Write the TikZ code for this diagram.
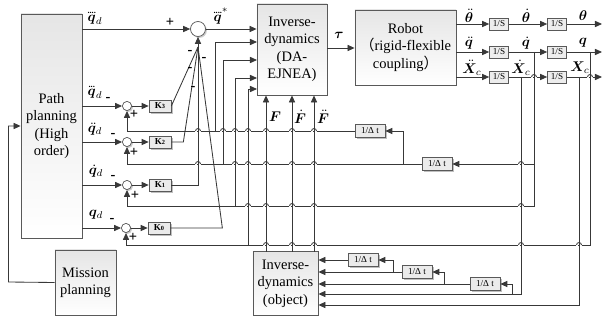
\documentclass[tikz,border=0pt]{standalone}
\usepackage{amsmath}
\usepackage{bm}
\usepackage{fontspec}
\setmainfont{Liberation Serif}
\newfontfamily\cjk{Noto Sans CJK SC}
\usetikzlibrary{arrows.meta,calc,shadows}

\newcommand{\blkfont}{\fontsize{10.3}{12.4}\selectfont}
\newcommand{\tinyfont}{\fontsize{6.5}{7}\selectfont}
% row of dots over a symbol (third and fourth derivatives)
\newcommand{\ndot}[2]{\overset{\raisebox{-2.2pt}{\fontsize{6}{6}\selectfont\bfseries #1}}{#2}}

% small bridge where a horizontal wire passes over a vertical one
\newcommand{\hop}[2]{%
  \fill[white] (#1-2.9,#2-1.2) rectangle (#1-0.75,#2+1.2);
  \fill[white] (#1+0.75,#2-1.2) rectangle (#1+2.9,#2+1.2);
  \draw[wire] (#1+2.5,#2) arc[start angle=0,end angle=180,radius=0.0625cm];
}

\begin{document}
\begin{tikzpicture}[x=0.025cm, y=-0.025cm,
    wire/.style={draw=black!78, line width=0.6pt},
    arr/.style={wire, -{Triangle[length=5pt,width=4.4pt]}},
    blk/.style={draw=black!65, line width=0.6pt, top color=black!10, bottom color=white,
      align=center, inner sep=0pt, font=\blkfont},
    intg/.style={draw=black!65, line width=0.5pt, fill=black!7, minimum width=0.475cm,
      minimum height=0.3cm, inner sep=0pt, font=\tinyfont},
    gain/.style={draw=black!65, line width=0.5pt, fill=black!8, minimum width=0.55cm,
      minimum height=0.3cm, inner sep=0pt, font=\tinyfont\bfseries,
      general shadow={fill=black!25, shadow xshift=1.3pt, shadow yshift=-1.3pt}},
    diff/.style={gain, minimum width=0.75cm, minimum height=0.32cm, font=\tinyfont},
    sumpt/.style={circle, draw=black!65, line width=0.5pt, fill=white, minimum size=0.23cm,
      inner sep=0pt, general shadow={fill=black!20, shadow xshift=1pt, shadow yshift=-1pt}},
    lab/.style={inner sep=0pt, font=\blkfont},
  ]
  \useasboundingbox (0,0) rectangle (603,321);

  % Main blocks
  \node[blk, minimum width=1.525cm, minimum height=5.6cm] (plan) at (51.5,126) {Path\\planning\\(High\\order)};
  \node[blk, minimum width=1.525cm, minimum height=1.625cm] (miss) at (85.5,282.5) {Mission\\planning};
  \node[blk, minimum width=1.75cm, minimum height=2.275cm] (inv) at (292,49.5) {Inverse-\\dynamics\\(DA-\\EJNEA)};
  \node[blk, minimum width=2.525cm, minimum height=1.875cm] (robot) at (405.5,47.5) {Robot\\{\cjk （}rigid-flexible\\coupling{\cjk ）}};
  \node[blk, minimum width=1.625cm, minimum height=1.6cm] (obj) at (285.5,283.5) {Inverse-\\dynamics\\(object)};

  % Integrators
  \node[intg] (ia1) at (499,24) {1/S};
  \node[intg] (ib1) at (557,24) {1/S};
  \node[intg] (ia2) at (499,52) {1/S};
  \node[intg] (ib2) at (557,52) {1/S};
  \node[intg] (ia3) at (499,77) {1/S};
  \node[intg] (ib3) at (557,77) {1/S};

  % Summing points and gains
  \node[sumpt, minimum size=0.375cm] (bigsum) at (198,29) {};
  \node[sumpt] (s3) at (127,106) {};
  \node[sumpt] (s2) at (127,142) {};
  \node[sumpt] (s1) at (127,185) {};
  \node[sumpt] (s0) at (126,228) {};
  \node[gain] (k3) at (160,106) {K{\fontsize{4.5}{5}\selectfont 3}};
  \node[gain] (k2) at (160,142) {K{\fontsize{4.5}{5}\selectfont 2}};
  \node[gain] (k1) at (160,185) {K{\fontsize{4.5}{5}\selectfont 1}};
  \node[gain] (k0) at (159,228) {K{\fontsize{4.5}{5}\selectfont 0}};

  % Difference quotients
  \node[diff] (dq3) at (370,131) {1/Δ t};
  \node[diff] (dq2) at (437,164) {1/Δ t};
  \node[diff] (dx1) at (363,260) {1/Δ t};
  \node[diff] (dx2) at (417,272) {1/Δ t};
  \node[diff] (dx3) at (485,284) {1/Δ t};

  % Branch points and wire ends
  \coordinate (conv) at (198,47);
  \coordinate (tdq) at (534,52);
  \coordinate (tq) at (590,52);
  \coordinate (tdx) at (521,77);
  \coordinate (tx) at (579,77);
  \coordinate (oth) at (602,24);
  \coordinate (oq) at (602,52);
  \coordinate (ox) at (602,77);
  \coordinate (jq) at (403,164);
  \coordinate (jx3) at (512,294);
  \coordinate (jx2) at (444,284);
  \coordinate (jx1) at (393,272);
  \coordinate (rq1) at (0,206);
  \coordinate (rq0) at (0,245);
  \coordinate (rx1) at (0,294);
  \coordinate (rx0) at (0,305);
  \coordinate (taurow) at (0,48);
  \coordinate (fa) at (215,131);
  \coordinate (fb) at (223,164);
  \coordinate (fc) at (235,206);
  \coordinate (fd) at (248,245);
  \coordinate (ina) at (257,42);
  \coordinate (inb) at (257,60);
  \coordinate (inc) at (257,78);
  \coordinate (ind) at (257,89);
  \coordinate (f0) at (266,251.5);
  \coordinate (f1) at (292,251.5);
  \coordinate (f2) at (314,251.5);
  \coordinate (mbend) at (8.5,282);

  % Reference signals
  \draw[arr] (plan.east |- bigsum) -- (bigsum);
  \draw[arr] (bigsum) -- (inv.west |- bigsum);
  \draw[arr] (plan.east |- s3) -- (s3);
  \draw[arr] (plan.east |- s2) -- (s2);
  \draw[arr] (plan.east |- s1) -- (s1);
  \draw[arr] (plan.east |- s0) -- (s0);
  \draw[arr] (s3) -- (k3);
  \draw[arr] (s2) -- (k2);
  \draw[arr] (s1) -- (k1);
  \draw[arr] (s0) -- (k0);

  % Gains into the big sum
  \draw[wire] (k3.east) -- (conv);
  \draw[wire] (k2.east) -- ++(12,0) -- (conv);
  \draw[wire] (k1.east) -| (conv);
  \draw[wire] (k0.east) -- ++(52,0) -- (conv);
  \draw[arr] (conv) -- (bigsum);

  % Robot and integrators
  \draw[arr] (inv.east |- taurow) -- (robot.west |- taurow);
  \draw[arr] (robot.east |- ia1) -- (ia1);
  \draw[arr] (ia1) -- (ib1);
  \draw[arr] (ib1) -- (oth);
  \draw[arr] (robot.east |- ia2) -- (ia2);
  \draw[arr] (ia2) -- (ib2);
  \draw[arr] (ib2) -- (oq);
  \draw[arr] (robot.east |- ia3) -- (ia3);
  \draw[arr] (ia3) -- (ib3);
  \draw[arr] (ib3) -- (ox);

  % Joint feedback
  \draw[arr] (tdq) |- (s1 |- rq1) -- (s1);
  \draw[arr] (tdq |- dq2) -- (dq2);
  \draw[arr] (dq2) -| (s2);
  \draw[arr] (jq) |- (dq3);
  \draw[arr] (dq3) -| (s3);
  \draw[arr] (tq) |- (s0 |- rq0) -- (s0);

  % States into the inverse dynamics
  \draw[arr] (fa) |- (ina);
  \draw[arr] (fb) |- (inb);
  \draw[arr] (fc) |- (inc);
  \draw[arr] (fd) |- (ind);
  \foreach \f in {f0,f1,f2}
    \draw[arr] (\f) -- (\f |- inv.south);

  % Object states
  \draw[arr] (tdx) |- (obj.east |- rx1);
  \draw[arr] (jx3) |- (dx3);
  \draw[arr] (dx3) -- (obj.east |- dx3);
  \draw[arr] (jx2) |- (dx2);
  \draw[arr] (dx2) -- (obj.east |- dx2);
  \draw[arr] (jx1) |- (dx1);
  \draw[arr] (dx1) -- (obj.east |- dx1);
  \draw[arr] (tx) |- (obj.east |- rx0);

  % Mission planning
  \draw[arr] (miss.west) -- (mbend) |- (plan.west);

  % Bridges
  \foreach \x/\y in {534/77, 590/77,
      198/131, 223/131, 235/131, 248/131, 266/131, 292/131, 314/131,
      198/164, 235/164, 248/164, 266/164, 292/164, 314/164, 521/164,
      248/206, 266/206, 292/206, 314/206, 521/206,
      266/245, 292/245, 314/245, 521/245, 579/245}
    {\hop{\x}{\y}}

  % Labels
  \node[lab] (lqd4) at (95,17) {$\ndot{....}{\bm q}_d$};
  \node[lab] (lqd3) at (95,91) {$\ndot{...}{\bm q}_d$};
  \node[lab] (lqd2) at (95,129) {$\ddot{\bm q}_d$};
  \node[lab] (lqd1) at (96,171) {$\dot{\bm q}_d$};
  \node[lab] (lqd0) at (96,215) {$\bm q_d$};
  \node[lab] (lqs) at (221,16) {$\ndot{....}{\bm q}^{*}$};
  \node[lab] (ltau) at (339,35) {$\bm\tau$};
  \node[lab] (lth2) at (469,16) {$\ddot{\bm\theta}$};
  \node[lab] (lth1) at (526,16) {$\dot{\bm\theta}$};
  \node[lab] (lth0) at (583,16) {$\bm\theta$};
  \node[lab] (lq2) at (469,43) {$\ddot{\bm q}$};
  \node[lab] (lq1) at (526,43) {$\dot{\bm q}$};
  \node[lab] (lq0) at (583,43) {$\bm q$};
  \node[lab] (lx2) at (472,68) {$\ddot{\bm X}_c$};
  \node[lab] (lx1) at (521,68) {$\dot{\bm X}_c$};
  \node[lab] (lx0) at (580,68) {$\bm X_c$};
  \node[lab] (lf0) at (275,117) {$\bm F$};
  \node[lab] (lf1) at (300,117) {$\dot{\bm F}$};
  \node[lab] (lf2) at (323,117) {$\ddot{\bm F}$};

  % Signs
  \node[lab] (pbig) at (170,22) {\textbf{+}};
  \node[lab] (mb1) at (190,52) {\textbf{-}};
  \node[lab] (mb2) at (190,69) {\textbf{-}};
  \node[lab] (mb3) at (193,88) {\textbf{-}};
  \node[lab] (mb4) at (204,59) {\textbf{-}};
  \node[lab] (m3) at (108,99) {\textbf{-}};
  \node[lab] (m2) at (113,135) {\textbf{-}};
  \node[lab] (m1) at (113,177) {\textbf{-}};
  \node[lab] (m0) at (112,220) {\textbf{-}};
  \node[lab] (p3) at (134,114) {\textbf{+}};
  \node[lab] (p2) at (134,152) {\textbf{+}};
  \node[lab] (p1) at (135,195) {\textbf{+}};
  \node[lab] (p0) at (133,237) {\textbf{+}};
\end{tikzpicture}
\end{document}
